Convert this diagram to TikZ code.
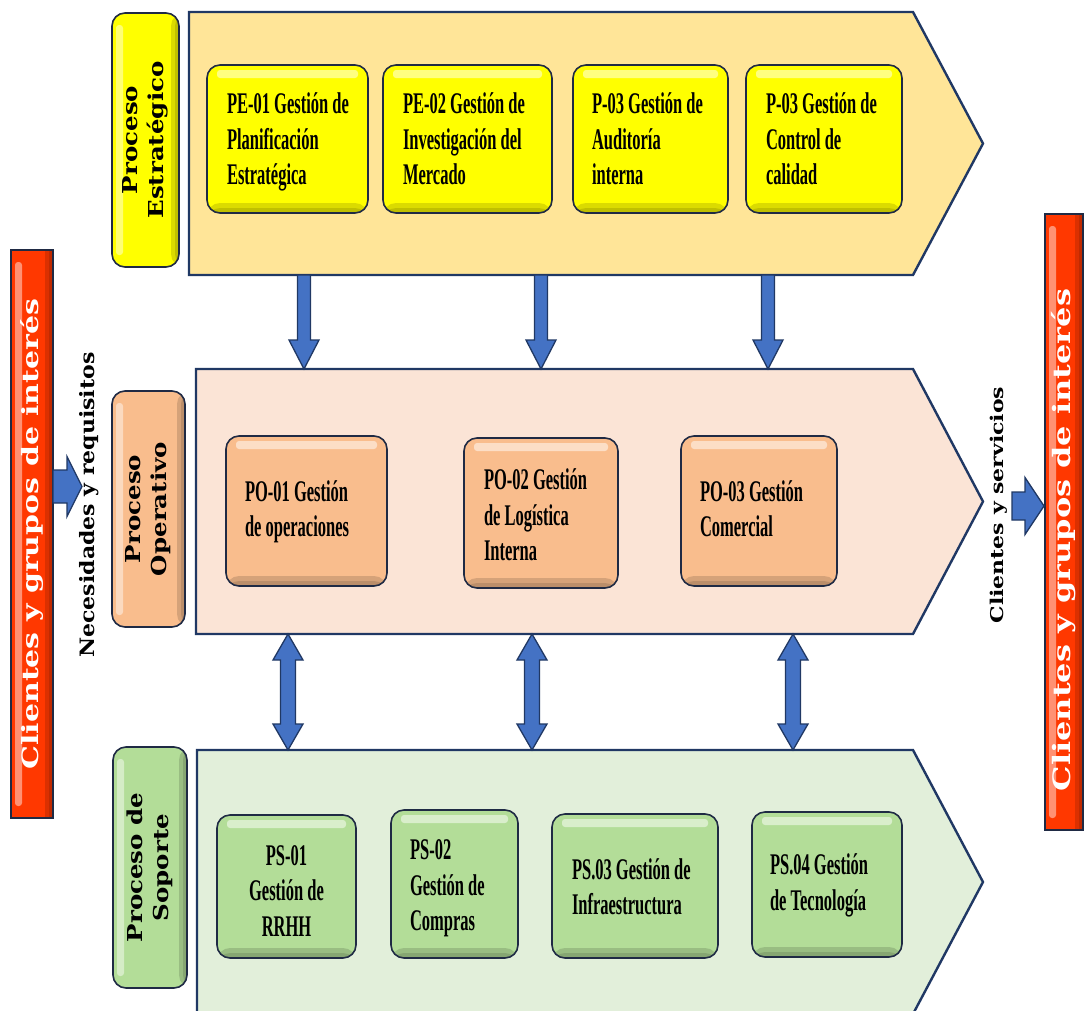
\documentclass[tikz,border=0pt]{standalone}
\usepackage{fontspec}
\usetikzlibrary{calc}

\newfontfamily\boxfont{Liberation Serif}[FakeStretch=0.55]
\newfontfamily\labfont{DejaVu Serif}

\definecolor{bandedge}{HTML}{203864}
\definecolor{boxedge}{HTML}{1F2A44}
\definecolor{bandY}{HTML}{FFE598}
\definecolor{bandO}{HTML}{FBE4D6}
\definecolor{bandG}{HTML}{E2EFDA}
\definecolor{boxY}{HTML}{FFFF00}
\definecolor{boxO}{HTML}{F9BD8D}
\definecolor{boxG}{HTML}{B3DD98}
\definecolor{redside}{HTML}{FF3800}
\definecolor{arrowblue}{HTML}{4472C4}

% block arrows between named points (y grows downwards)
\newcommand\downblock[2]{%
  \path[blockarrow] ($(#1)+(-6.5,0)$) -- ($(#2)+(-6.5,-29)$) -- ($(#2)+(-15,-29)$)
    -- (#2) -- ($(#2)+(15,-29)$) -- ($(#2)+(6.5,-29)$) -- ($(#1)+(6.5,0)$) -- cycle;}
\newcommand\twoblock[2]{%
  \path[blockarrow] (#1) -- ($(#1)+(15,26)$) -- ($(#1)+(7.5,26)$) -- ($(#2)+(7.5,-26)$)
    -- ($(#2)+(15,-26)$) -- (#2) -- ($(#2)+(-15,-26)$) -- ($(#2)+(-7.5,-26)$)
    -- ($(#1)+(-7.5,26)$) -- ($(#1)+(-15,26)$) -- cycle;}
% #3 half shaft, #4 half head, #5 head length
\newcommand\rightblock[5]{%
  \path[blockarrow] ($(#1)+(0,-#3)$) -- ($(#2)+(-#5,-#3)$) -- ($(#2)+(-#5,-#4)$)
    -- (#2) -- ($(#2)+(-#5,#4)$) -- ($(#2)+(-#5,#3)$) -- ($(#1)+(0,#3)$) -- cycle;}

% box text: lines set flush left (or centred) in a block of fixed width,
% optionally lowered a little inside the box
\newcommand\boxlines[3][0pt]{\raisebox{-#1}[\height][\depth]{%
  \makebox[#2][l]{\begin{tabular}{@{}l@{}}#3\end{tabular}}}}
\newcommand\boxlinesc[3][0pt]{\raisebox{-#1}[\height][\depth]{%
  \makebox[#2][c]{\begin{tabular}{@{}c@{}}#3\end{tabular}}}}

\tikzset{
  band/.style={draw=bandedge, line width=2.4pt, line join=miter},
  blockarrow/.style={fill=arrowblue, draw=bandedge, line width=1.3pt, line join=miter},
  % raised look: light strip under the top edge, shade along the bottom
  bevel/.style={path picture={
    \fill[white, opacity=0.5, rounded corners=3pt]
      ($(path picture bounding box.north west)+(10,5)$) rectangle
      ($(path picture bounding box.north east)+(-10,13)$);
    \fill[black, opacity=0.14]
      ($(path picture bounding box.south west)+(0,-10)$) rectangle
      (path picture bounding box.south east);
    \fill[black, opacity=0.12]
      ($(path picture bounding box.south west)+(0,-5)$) rectangle
      (path picture bounding box.south east);}},
  % the same turned sideways for the tall boxes
  sidebevel/.style={path picture={
    \fill[white, opacity=0.45, rounded corners=3pt]
      ($(path picture bounding box.north west)+(4,12)$) rectangle
      ($(path picture bounding box.south west)+(11,-12)$);
    \fill[black, opacity=0.14]
      ($(path picture bounding box.north east)+(-8,0)$) rectangle
      (path picture bounding box.south east);
    \fill[black, opacity=0.12]
      ($(path picture bounding box.north east)+(-4,0)$) rectangle
      (path picture bounding box.south east);}},
  procbox/.style={rectangle, rounded corners=13pt, draw=boxedge, line width=1.6pt,
    inner sep=0pt, text=black, bevel,
    font={\boxfont\bfseries\fontsize{30}{35.5}\selectfont}},
  ybox/.style={procbox, fill=boxY},
  obox/.style={procbox, fill=boxO},
  gbox/.style={procbox, fill=boxG},
  labbox/.style={rectangle, rounded corners=13pt, draw=boxedge, line width=1.6pt,
    inner sep=0pt, text=black, sidebevel,
    font={\labfont\bfseries\fontsize{24.5}{31}\selectfont}},
  sidebox/.style={rectangle, draw=boxedge, line width=1.4pt, inner sep=0pt,
    fill=redside, sidebevel, text=white, font={\labfont\bfseries}},
  flowtext/.style={inner sep=0pt, text=black, font={\labfont\bfseries\fontsize{22}{26}\selectfont}}
}

\newcommand\vlabel[2]{\rotatebox{90}{\scalebox{1}[#1]{\begin{tabular}{@{}c@{}}#2\end{tabular}}}}

\begin{document}
\begin{tikzpicture}[x=1pt,y=-1pt]
\useasboundingbox (0,0) rectangle (1085,1010);
\fill[white] (0,0) rectangle (1085,1010);
\clip (0,0) rectangle (1085,1010);

% ---- process bands ----
\draw[band, fill=bandY] (189,12) -- (913,12) -- (983,143.5) -- (913,275) -- (189,275) -- cycle;
\draw[band, fill=bandO] (196,369) -- (913,369) -- (983,501.5) -- (913,634) -- (196,634) -- cycle;
\draw[band, fill=bandG] (197,750) -- (913,750) -- (983,882) -- (913,1014) -- (197,1014) -- cycle;

% ---- band titles ----
\node[labbox, fill=boxY, minimum width=67pt, minimum height=254pt] (labE) at (145.5,140)
  {\vlabel{0.84}{Proceso\\Estratégico}};
\node[labbox, fill=boxO, minimum width=73pt, minimum height=236pt] (labO) at (148.5,509)
  {\vlabel{0.84}{Proceso\\Operativo}};
\node[labbox, fill=boxG, minimum width=74pt, minimum height=241pt] (labS) at (150,867.5)
  {\vlabel{0.84}{Proceso de\\Soporte}};

% ---- strategic processes ----
\node[ybox, minimum width=161pt, minimum height=148pt] (pe1) at (287.5,139)
  {\boxlines[3pt]{121pt}{PE-01 Gestión de\\Planificación\\Estratégica}};
\node[ybox, minimum width=169pt, minimum height=148pt] (pe2) at (467.5,139)
  {\boxlines[3pt]{129pt}{PE-02 Gestión de\\Investigación del\\Mercado}};
\node[ybox, minimum width=155pt, minimum height=148pt] (pe3) at (650.5,139)
  {\boxlines[3pt]{117pt}{P-03 Gestión de\\Auditoría\\interna}};
\node[ybox, minimum width=156pt, minimum height=148pt] (pe4) at (824,139)
  {\boxlines[3pt]{116pt}{P-03 Gestión de\\Control de\\calidad}};

% ---- operative processes ----
\node[obox, minimum width=161pt, minimum height=150pt] (po1) at (306.5,511)
  {\boxlines[1pt]{123pt}{PO-01 Gestión\\de operaciones}};
\node[obox, minimum width=154pt, minimum height=150pt] (po2) at (541,513)
  {\boxlines[5pt]{114pt}{PO-02 Gestión\\de Logística\\Interna}};
\node[obox, minimum width=156pt, minimum height=150pt] (po3) at (759,511)
  {\boxlines[1pt]{118pt}{PO-03 Gestión\\Comercial}};

% ---- support processes ----
\node[gbox, minimum width=139pt, minimum height=143pt] (ps1) at (286.5,886.5)
  {\boxlinesc[7pt]{101pt}{PS-01\\Gestión de\\RRHH}};
\node[gbox, minimum width=127pt, minimum height=148pt] (ps2) at (454.5,884)
  {\boxlines[4pt]{89pt}{PS-02\\Gestión de\\Compras}};
\node[gbox, minimum width=166pt, minimum height=144pt] (ps3) at (635,886)
  {\boxlines[4pt]{126pt}{PS.03 Gestión de\\Infraestructura}};
\node[gbox, minimum width=150pt, minimum height=145pt] (ps4) at (827,884.5)
  {\boxlines[1pt]{114pt}{PS.04 Gestión\\de Tecnología}};

% ---- clients on both sides ----
\node[sidebox, minimum width=42pt, minimum height=568pt] (cliL) at (32,534)
  {\fontsize{30}{36}\selectfont\rotatebox{90}{\scalebox{1}[0.75]{Clientes  y grupos de interés}}};
\node[sidebox, minimum width=38pt, minimum height=616pt] (cliR) at (1064,522)
  {\fontsize{32}{38}\selectfont\rotatebox{90}{\scalebox{1}[0.75]{Clientes y grupos de interés\hspace{36pt}}}};

\node[flowtext] (needs) at (89,505) {\rotatebox{90}{\scalebox{1}[0.9]{Necesidades y requisitos}}};
\node[flowtext] (outs) at (999,505) {\rotatebox{90}{\scalebox{1}[0.8]{Clientes y servicios}}};

% ---- connection points on the band edges ----
\coordinate (sb1) at (304,275);  \coordinate (ot1) at (304,369);
\coordinate (sb2) at (541,275);  \coordinate (ot2) at (541,369);
\coordinate (sb3) at (768,275);  \coordinate (ot3) at (768,369);
\coordinate (ob1) at (288,634);  \coordinate (st1) at (288,750);
\coordinate (ob2) at (532,634);  \coordinate (st2) at (532,750);
\coordinate (ob3) at (793,634);  \coordinate (st3) at (793,750);
\coordinate (needStart) at (53,486.5);  \coordinate (needTip) at (82,486.5);
\coordinate (outStart) at (1012,506);   \coordinate (outTip) at (1044,506);

% ---- arrows ----
\downblock{sb1}{ot1}
\downblock{sb2}{ot2}
\downblock{sb3}{ot3}
\twoblock{ob1}{st1}
\twoblock{ob2}{st2}
\twoblock{ob3}{st3}
\rightblock{needStart}{needTip}{16.5}{30}{15}
\rightblock{outStart}{outTip}{14}{28.5}{19}
\end{tikzpicture}
\end{document}
